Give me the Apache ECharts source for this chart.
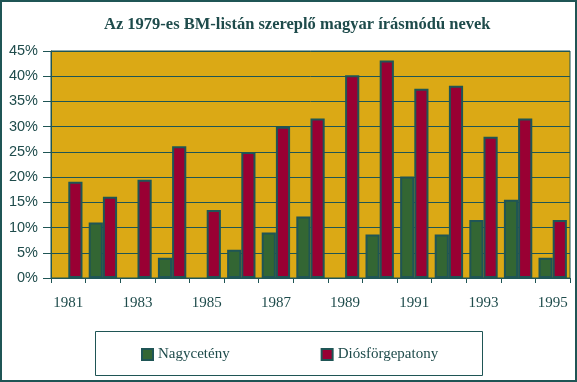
<!DOCTYPE html>
<html>
<head>
<meta charset="utf-8">
<script src="https://cdn.jsdelivr.net/npm/echarts@6/dist/echarts.min.js"></script>
<style>html,body{margin:0;padding:0;background:#fff;}#c{width:577px;height:382px;}</style>
</head>
<body>
<div id="c"></div>
<script>
const titleText = 'Az 1979-es BM-listán szereplő magyar írásmódú nevek';
const years = ['1981','1982','1983','1984','1985','1986','1987','1988','1989','1990','1991','1992','1993','1994','1995'];
const seriesNames = ['Nagycetény', 'Diósförgepatony'];
const nagycetény = [null, 11.0, null, 4.0, null, 5.6, 9.0, 12.2, null, 8.6, 20.1, 8.6, 11.5, 15.5, 4.0];
const diosforgepatony = [19.1, 16.1, 19.5, 26.1, 13.5, 25.0, 30.0, 31.6, 40.2, 43.1, 37.5, 38.1, 28.0, 31.6, 11.5];

const teal = '#1F5555';
const textTeal = '#1E4B4B';
const chart = echarts.init(document.getElementById('c'), null, {renderer: 'canvas'});
chart.setOption({
  animation: false,
  backgroundColor: '#ffffff',
  title: {
    text: titleText,
    left: 99,
    top: 11,
    textStyle: {fontFamily: 'Liberation Serif', fontWeight: 'bold', fontSize: 16.5, color: textTeal}
  },
  grid: {
    left: 51, right: 7, top: 51, bottom: 104,
    show: true, backgroundColor: '#DBA915', borderColor: teal, borderWidth: 1
  },
  legend: {
    left: 136, top: 342,
    itemWidth: 11, itemHeight: 11, itemGap: 91,
    icon: 'rect',
    textStyle: {fontFamily: 'Liberation Serif', fontSize: 15, color: textTeal},
    data: seriesNames
  },
  graphic: [
    {type: 'rect', shape: {x: 1, y: 1, width: 575, height: 380}, style: {fill: 'none', stroke: teal, lineWidth: 2}, silent: true},
    {type: 'rect', shape: {x: 95.5, y: 331.5, width: 387, height: 44}, style: {fill: 'none', stroke: teal, lineWidth: 1}, silent: true}
  ],
  xAxis: {
    type: 'category',
    data: years,
    axisLine: {show: true, lineStyle: {color: teal, width: 1}},
    axisTick: {show: true, alignWithLabel: false, interval: 0, length: 5, lineStyle: {color: teal}},
    axisLabel: {interval: 1, margin: 18, fontFamily: 'Liberation Serif', fontSize: 15, color: textTeal},
    splitLine: {show: false}
  },
  yAxis: {
    type: 'value',
    min: 0, max: 45, interval: 5,
    axisLine: {show: true, lineStyle: {color: teal, width: 1}},
    axisTick: {show: true, length: 8, lineStyle: {color: teal}},
    axisLabel: {formatter: '{value}%', margin: 13, fontFamily: 'Liberation Sans', fontSize: 14.5, color: textTeal},
    splitLine: {show: true, lineStyle: {color: teal, width: 1}}
  },
  series: [
    {
      name: seriesNames[0], type: 'bar', data: nagycetény,
      barGap: '0%', barCategoryGap: '18%',
      itemStyle: {color: '#336633', borderColor: teal, borderWidth: 2}
    },
    {
      name: seriesNames[1], type: 'bar', data: diosforgepatony,
      barGap: '0%', barCategoryGap: '18%',
      itemStyle: {color: '#990033', borderColor: teal, borderWidth: 2}
    }
  ]
});
</script>
</body>
</html>
